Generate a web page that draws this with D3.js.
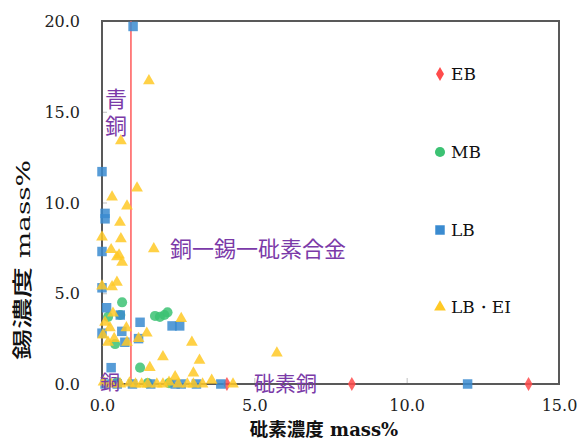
<!DOCTYPE html>
<html>
<head>
<meta charset="utf-8">
<script src="https://cdn.jsdelivr.net/npm/d3@7"></script>
<style>
  html, body { margin: 0; padding: 0; background: #fff; }
  svg { display: block; }
</style>
</head>
<body>
<svg id="chart" width="577" height="441"></svg>
<script>
// Arsenic (x) and tin (y) concentrations, mass%
const ebPoints = [[4.1, 0], [8.2, 0], [14.0, 0]];
const mbPoints = [
  [0.66, 4.5], [0.2, 3.7], [0.6, 3.8], [0.43, 2.2], [1.74, 3.75], [1.9, 3.7],
  [2.05, 3.8], [2.15, 3.95], [1.25, 0.9], [0.5, 0.1], [1.5, 0.05], [2.2, 0.05]
];
const lbPoints = [
  [1.02, 19.7], [0, 11.7], [0.1, 9.4], [0.1, 9.1], [0, 7.3], [0, 5.3], [0.15, 4.2],
  [0.6, 3.8], [0, 2.8], [0.65, 2.9], [0.75, 2.3], [0.3, 0.9], [1.25, 3.4], [1.2, 2.5],
  [2.3, 3.2], [2.55, 3.2], [12.0, 0], [3.9, 0], [0.1, 0], [0.5, 0], [1.0, 0],
  [1.6, 0], [2.4, 0], [2.6, 0], [3.1, 0]
];
const lbeiPoints = [
  [1.54, 16.7], [0.62, 13.4], [1.15, 10.8], [0.33, 10.3], [0.82, 9.8], [0.59, 8.9],
  [0, 8.1], [0.62, 8.0], [0.3, 7.4], [0.56, 7.1], [0.49, 7.0], [0.66, 6.7], [1.7, 7.45],
  [0, 5.4], [0.33, 5.35], [0.49, 5.6], [0.36, 3.9], [0.1, 3.4], [0.26, 3.1], [0.8, 3.1],
  [0.03, 2.7], [0.4, 2.5], [0.2, 2.3], [0.82, 2.3], [1.2, 2.5], [1.47, 2.8], [2.6, 3.6],
  [2.95, 2.3], [2.0, 1.5], [3.2, 1.3], [1.57, 0.9], [5.74, 1.7], [2.4, 0.4], [3.0, 0.6],
  [0.05, 0.1], [0.3, 0], [0.6, 0], [0.9, 0.05], [1.1, 0], [1.3, 0], [1.5, 0], [1.8, 0],
  [2.0, 0], [2.2, 0.1], [2.5, 0], [2.8, 0], [3.0, 0], [3.3, 0], [3.6, 0.2], [4.3, 0]
];
const xTicks = [0, 5, 10, 15];
const yTicks = [0, 5, 10, 15, 20];
const bronzeLimit = 0.95;

const series = [
  { name: "EB", points: ebPoints, color: "#ff4b4b", symbol: d3.symbolDiamond, size: 55 },
  { name: "MB", points: mbPoints, color: "#3cc273", symbol: d3.symbolCircle, size: 80 },
  { name: "LB", points: lbPoints, color: "#3a8bd0", symbol: d3.symbolSquare, size: 90 },
  { name: "LB・EI", points: lbeiPoints, color: "#ffc926", symbol: d3.symbolTriangle, size: 60 }
];

const svg = d3.select("#chart");
const plot = { left: 102, right: 559, top: 21, bottom: 384 };

const x = d3.scaleLinear().domain([0, 15]).range([plot.left, plot.right]);
const y = d3.scaleLinear().domain([0, 20]).range([plot.bottom, plot.top]);

const frameColor = "#595959";
const fmt = d3.format(".1f");
const serif = "'DejaVu Serif', serif";
const cjk = "'Noto Sans CJK JP', sans-serif";

// Axes with inward ticks
const gx = svg.append("g").attr("transform", `translate(0,${plot.bottom})`)
  .call(d3.axisTop(x).tickValues(xTicks).tickSize(6));
gx.select(".domain").remove();
gx.selectAll("line").attr("stroke", "#bfbfbf");
gx.selectAll("text").remove();
gx.selectAll(".tick").append("text")
  .style("font-family", serif)
  .attr("y", 26.5).attr("text-anchor", "middle")
  .attr("font-size", 16).attr("fill", "#222")
  .text(d => fmt(d));

const gy = svg.append("g").attr("transform", `translate(${plot.left},0)`)
  .call(d3.axisRight(y).tickValues(yTicks).tickSize(5));
gy.select(".domain").remove();
gy.selectAll("line").attr("stroke", "#bfbfbf");
gy.selectAll("text").remove();
gy.selectAll(".tick").append("text")
  .style("font-family", serif)
  .attr("x", -22).attr("dy", "0.35em").attr("text-anchor", "end")
  .attr("font-size", 16).attr("fill", "#222")
  .text(d => fmt(d));

// Plot frame
svg.append("rect")
  .attr("x", plot.left).attr("y", plot.top)
  .attr("width", plot.right - plot.left).attr("height", plot.bottom - plot.top)
  .attr("fill", "none").attr("stroke", frameColor).attr("stroke-width", 2);

// Bronze boundary line
svg.append("line")
  .attr("x1", x(bronzeLimit)).attr("x2", x(bronzeLimit))
  .attr("y1", y(20)).attr("y2", y(0))
  .attr("stroke", "#ff5a5a").attr("stroke-width", 1.5);

// Markers
series.forEach(s => {
  svg.append("g").selectAll("path")
    .data(s.points)
    .join("path")
    .attr("transform", d => `translate(${x(d[0])},${y(d[1])})`)
    .attr("d", d3.symbol(s.symbol, s.size))
    .attr("fill", s.color)
    .attr("fill-opacity", 0.85);
});

// Region annotations
const purple = "#7b3aa8";
const annot = svg.append("g").attr("fill", purple).style("font-family", cjk);
annot.append("text")
  .attr("x", 116).attr("y", 88)
  .style("writing-mode", "vertical-rl")
  .style("letter-spacing", "5px")
  .attr("font-size", 22)
  .text("青銅");
annot.append("text").attr("x", 170).attr("y", 257).attr("font-size", 22).text("銅一錫一砒素合金");
annot.append("text").attr("x", 254).attr("y", 391).attr("font-size", 21).text("砒素銅");
annot.append("text").attr("x", 100).attr("y", 390).attr("font-size", 20).text("銅");

// Legend
const legendY = [74, 152, 230, 307];
const legend = svg.append("g");
series.forEach((s, i) => {
  legend.append("path")
    .attr("transform", `translate(440,${legendY[i]})`)
    .attr("d", d3.symbol(s.symbol, s.size))
    .attr("fill", s.color);
  legend.append("text")
    .style("font-family", serif)
    .attr("x", 451).attr("y", legendY[i]).attr("dy", "0.35em")
    .attr("font-size", 17).attr("fill", "#111")
    .text(s.name);
});

// Axis titles
const xt = svg.append("text")
  .attr("x", 324).attr("y", 435.5)
  .attr("text-anchor", "middle").attr("fill", "#111").attr("font-size", 18.5);
xt.append("tspan").style("font-family", cjk).attr("font-weight", "bold").text("砒素濃度");
xt.append("tspan").style("font-family", serif).attr("font-weight", "bold").attr("font-size", 18).text(" mass%");

// Y title is drawn stretched along its reading direction
const yt = svg.append("text")
  .attr("transform", "translate(30,260) rotate(-90) scale(1.55,1)")
  .attr("text-anchor", "middle").attr("fill", "#111").attr("font-size", 20);
yt.append("tspan").style("font-family", cjk).attr("font-weight", 500).text("錫濃度");
yt.append("tspan").style("font-family", serif).attr("font-size", 18).text(" mass%");
</script>
</body>
</html>
